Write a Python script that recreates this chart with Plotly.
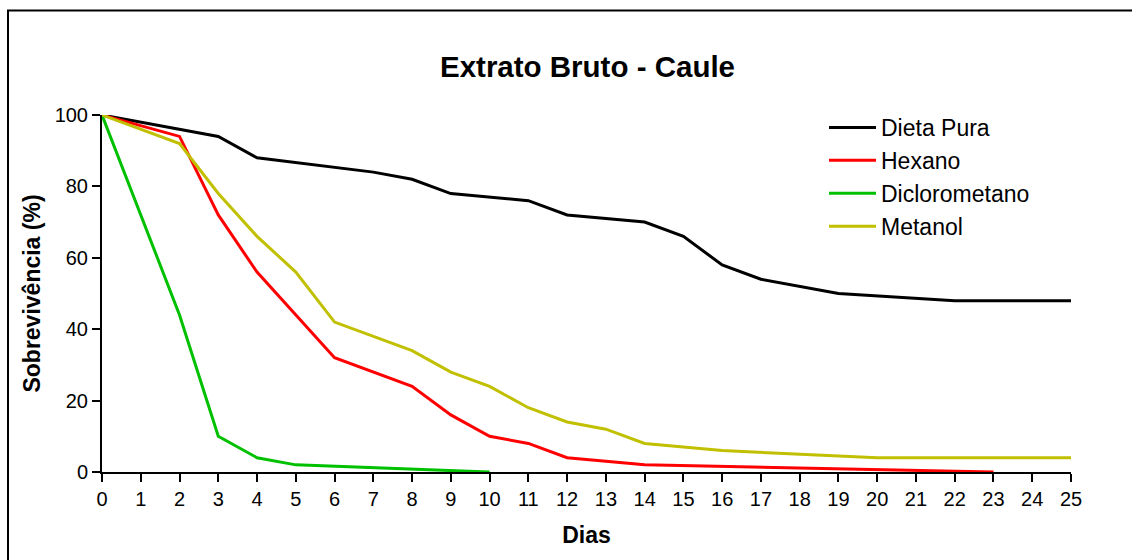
import plotly.graph_objects as go

# Survival (%) per day for each treatment
dieta_dias = [0, 2, 3, 4, 7, 8, 9, 11, 12, 14, 15, 16, 17, 19, 22, 25]
dieta_vals = [100, 96, 94, 88, 84, 82, 78, 76, 72, 70, 66, 58, 54, 50, 48, 48]

hexano_dias = [0, 2, 3, 4, 6, 8, 9, 10, 11, 12, 13, 14, 23]
hexano_vals = [100, 94, 72, 56, 32, 24, 16, 10, 8, 4, 3, 2, 0]

diclo_dias = [0, 2, 3, 4, 5, 10]
diclo_vals = [100, 44, 10, 4, 2, 0]

metanol_dias = [0, 2, 3, 4, 5, 6, 8, 9, 10, 11, 12, 13, 14, 16, 20, 25]
metanol_vals = [100, 92, 78, 66, 56, 42, 34, 28, 24, 18, 14, 12, 8, 6, 4, 4]

x_ticks = list(range(0, 26))
y_ticks = [0, 20, 40, 60, 80, 100]

FONT = "Arial, Liberation Sans, sans-serif"
W, H = 1132, 560
ML, MR, MT, MB = 102, 61, 115, 88
PW, PH = W - ML - MR, H - MT - MB

fig = go.Figure()
series = [
    ("Dieta Pura", dieta_dias, dieta_vals, "#000000"),
    ("Hexano", hexano_dias, hexano_vals, "#FF0000"),
    ("Diclorometano", diclo_dias, diclo_vals, "#00C000"),
    ("Metanol", metanol_dias, metanol_vals, "#C0C000"),
]
for name, xs, ys, color in series:
    fig.add_trace(go.Scatter(x=xs, y=ys, name=name, mode="lines",
                             line=dict(color=color, width=3), cliponaxis=False))

def px_x(p):
    return (p - ML) / PW

def px_y(p):
    return (H - MB - p) / PH

# outer frame (left and top edges)
frame = dict(color="#000000", width=2)
fig.add_shape(type="line", xref="paper", yref="paper",
              x0=px_x(8), x1=px_x(8), y0=px_y(570), y1=px_y(10.5), line=frame)
fig.add_shape(type="line", xref="paper", yref="paper",
              x0=px_x(7), x1=px_x(1140), y0=px_y(10.5), y1=px_y(10.5), line=frame)

fig.update_layout(
    width=W, height=H,
    margin=dict(l=ML, r=MR, t=MT, b=MB),
    paper_bgcolor="white", plot_bgcolor="white",
    font=dict(family=FONT, color="#000000"),
    title=dict(text="<b>Extrato Bruto - Caule</b>", xref="container", x=587.5 / W,
               xanchor="center", y=1 - 67 / H, yanchor="middle",
               font=dict(size=29.5, family=FONT)),
    showlegend=True,
    legend=dict(x=px_x(824), y=px_y(106), xanchor="left", yanchor="top",
                font=dict(size=23, family=FONT), bgcolor="rgba(0,0,0,0)",
                itemwidth=47, tracegroupgap=0),
    xaxis=dict(range=[0, 25], tickvals=x_ticks, ticktext=[str(v) for v in x_ticks],
               showgrid=False, zeroline=False, showline=True, linecolor="#000000",
               linewidth=2, ticks="outside", ticklen=8, tickwidth=2, tickcolor="#000000",
               tickfont=dict(size=20, family=FONT),
               title=dict(text="<b>Dias</b>", font=dict(size=23, family=FONT), standoff=18)),
    yaxis=dict(range=[0, 100], tickvals=y_ticks, ticktext=[str(v) for v in y_ticks],
               showgrid=False, zeroline=False, showline=True, linecolor="#000000",
               linewidth=2, ticks="outside", ticklen=8, tickwidth=2, tickcolor="#000000",
               tickfont=dict(size=20, family=FONT),
               title=dict(text="<b>Sobrevivência (%)</b>", font=dict(size=23, family=FONT),
                          standoff=8)),
)

fig.write_html("out.html")
